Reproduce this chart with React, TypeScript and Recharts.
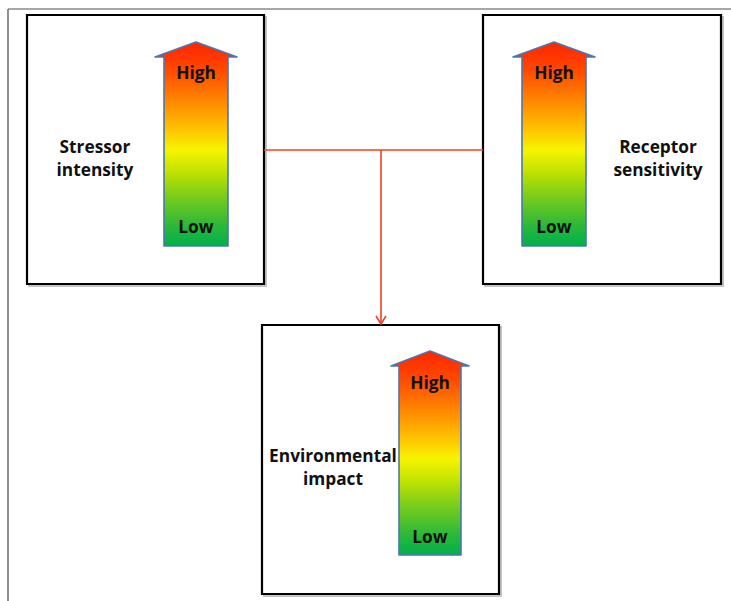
import React from "react";
import {
  ComposedChart,
  XAxis,
  YAxis,
  ReferenceArea,
  ReferenceLine,
  ReferenceDot,
} from "recharts";

const W = 731;
const H = 601;

// diagram content
const panelLines = [
  ["Stressor", "intensity"],
  ["Receptor", "sensitivity"],
  ["Environmental", "impact"],
];
const levelLabels = ["High", "Low"];
const gradientStops = [
  { offset: 0, color: "#ff2400" },
  { offset: 0.14, color: "#ff4a00" },
  { offset: 0.3, color: "#ff8c00" },
  { offset: 0.43, color: "#ffc400" },
  { offset: 0.53, color: "#f6f400" },
  { offset: 0.63, color: "#c4e400" },
  { offset: 0.76, color: "#78cc1c" },
  { offset: 0.9, color: "#2cb83a" },
  { offset: 1, color: "#00b04c" },
];

// layout (page pixels)
const boxes = [
  { x1: 27, x2: 264, y1: 15, y2: 284 },
  { x1: 483, x2: 721, y1: 15, y2: 284 },
  { x1: 262, x2: 499, y1: 325, y2: 594 },
];
const arrows = [
  { cx: 196, half: 32, wing: 41, tip: 42, base: 57, bottom: 246, high: 79, low: 233 },
  { cx: 554, half: 32, wing: 41, tip: 42, base: 57, bottom: 246, high: 79, low: 233 },
  { cx: 430, half: 31, wing: 39, tip: 351, base: 366, bottom: 555, high: 389, low: 543 },
];
const labelPos = [
  { x: 95, y: 153 },
  { x: 658, y: 153 },
  { x: 333, y: 462 },
];
const connY = 150;
const connX = 381;

const FONT = "'Open Sans', Lato, sans-serif";
const FS = 17.3;
const RED = "#f2401e";

function arrowShape(i: number) {
  const a = arrows[i];
  return (p: any) => {
    const { x, y, width, height } = p;
    const cx = x + width / 2;
    const k = width / (2 * a.wing);
    const hw = a.half * k;
    const headH = (a.base - a.tip) * (height / (a.bottom - a.tip));
    const bot = y + height;
    const pts = [
      [cx, y],
      [x + width, y + headH],
      [cx + hw, y + headH],
      [cx + hw, bot],
      [cx - hw, bot],
      [cx - hw, y + headH],
      [x, y + headH],
    ]
      .map((q) => q.join(","))
      .join(" ");
    const id = `grad${i}`;
    const dy = (v: number) => y + (v - a.tip) * (height / (a.bottom - a.tip));
    return (
      <g>
        <defs>
          <linearGradient id={id} x1="0" y1="0" x2="0" y2="1">
            {gradientStops.map((s) => (
              <stop key={s.offset} offset={s.offset} stopColor={s.color} />
            ))}
          </linearGradient>
        </defs>
        <polygon points={pts} fill={`url(#${id})`} stroke="#4a78ae" strokeWidth={1.6} strokeLinejoin="round" />
        <text x={cx} y={dy(a.high)} textAnchor="middle" fontFamily={FONT} fontWeight={700} fontSize={FS} fill="#111">
          {levelLabels[0]}
        </text>
        <text x={cx} y={dy(a.low)} textAnchor="middle" fontFamily={FONT} fontWeight={700} fontSize={FS} fill="#111">
          {levelLabels[1]}
        </text>
      </g>
    );
  };
}

function panelText(i: number) {
  return (p: any) => (
    <text x={p.cx} y={p.cy} textAnchor="middle" fontFamily={FONT} fontWeight={700} fontSize={FS} fill="#111">
      <tspan x={p.cx}>{panelLines[i][0]}</tspan>
      <tspan x={p.cx} dy={23}>
        {panelLines[i][1]}
      </tspan>
    </text>
  );
}

const arrowHead = (p: any) => (
  <polyline
    points={`${p.cx - 5},${p.cy - 9} ${p.cx},${p.cy - 1} ${p.cx + 5},${p.cy - 9}`}
    fill="none"
    stroke={RED}
    strokeWidth={1.6}
  />
);

export default function App() {
  return (
    <div style={{ position: "absolute", left: 0, top: 0, background: "#fff" }}>
      <ComposedChart width={W} height={H} data={labelPos} margin={{ top: 0, right: 0, bottom: 0, left: 0 }}>
        <XAxis type="number" dataKey="x" domain={[0, W]} hide allowDataOverflow />
        <YAxis type="number" dataKey="y" domain={[0, H]} reversed hide allowDataOverflow width={0} />
        <ReferenceLine segment={[{ x: 8, y: 9 }, { x: W, y: 9 }]} stroke="#8a8a8a" strokeWidth={1.5} ifOverflow="visible" />
        <ReferenceLine segment={[{ x: 8, y: 9 }, { x: 8, y: H }]} stroke="#6a6a6a" strokeWidth={1.5} ifOverflow="visible" />
        {boxes.map((b, i) => (
          <ReferenceArea
            key={`s${i}`}
            x1={b.x1 + 2}
            x2={b.x2 + 2}
            y1={b.y1 + 2}
            y2={b.y2 + 2}
            fill="none"
            stroke="#c4c4c4"
            strokeWidth={2}
            fillOpacity={1}
            ifOverflow="visible"
          />
        ))}
        {boxes.map((b, i) => (
          <ReferenceArea
            key={`b${i}`}
            x1={b.x1}
            x2={b.x2}
            y1={b.y1}
            y2={b.y2}
            fill="#fff"
            fillOpacity={1}
            stroke="#000"
            strokeWidth={2.2}
            ifOverflow="visible"
          />
        ))}
        <ReferenceLine segment={[{ x: boxes[0].x2, y: connY }, { x: boxes[1].x1, y: connY }]} stroke={RED} strokeWidth={1.6} ifOverflow="visible" />
        <ReferenceLine segment={[{ x: connX, y: connY }, { x: connX, y: boxes[2].y1 - 1 }]} stroke={RED} strokeWidth={1.6} ifOverflow="visible" />
        <ReferenceDot x={connX} y={boxes[2].y1} r={0} shape={arrowHead} ifOverflow="visible" />
        {arrows.map((a, i) => (
          <ReferenceArea
            key={`a${i}`}
            x1={a.cx - a.wing}
            x2={a.cx + a.wing}
            y1={a.tip}
            y2={a.bottom}
            shape={arrowShape(i)}
            ifOverflow="visible"
          />
        ))}
        {labelPos.map((l, i) => (
          <ReferenceDot key={`t${i}`} x={l.x} y={l.y} r={0} shape={panelText(i)} ifOverflow="visible" />
        ))}
      </ComposedChart>
    </div>
  );
}
